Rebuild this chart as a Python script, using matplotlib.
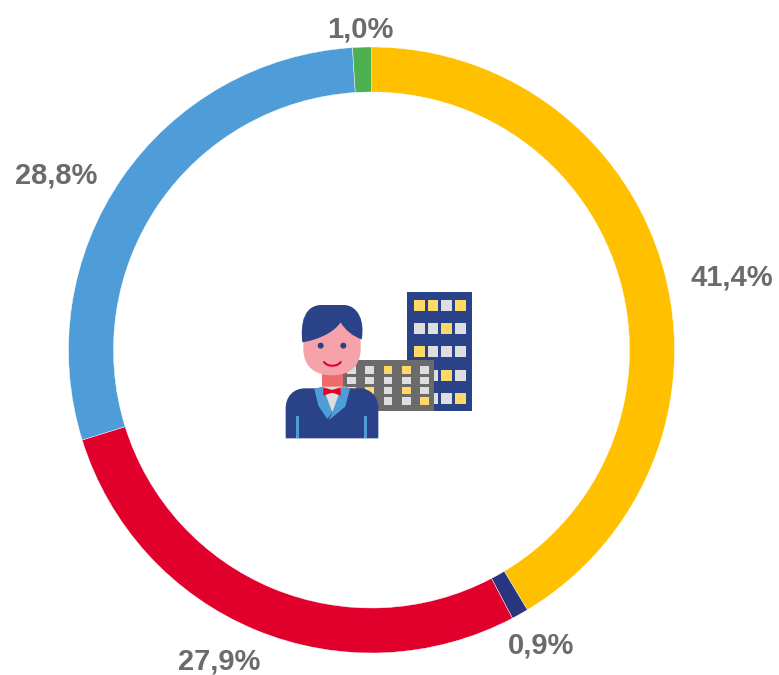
import matplotlib
matplotlib.use('Agg')
import matplotlib.pyplot as plt
from matplotlib.patches import Circle, PathPatch, Polygon, Rectangle
from matplotlib.path import Path

# share per segment, clockwise from the top
values = [41.4, 0.9, 27.9, 28.8, 1.0]
labels = ['41,4%', '0,9%', '27,9%', '28,8%', '1,0%']
colors = ['#FFC000', '#2A3580', '#E0002B', '#4F9DD8', '#4CAF50']

W, H = 779, 675
NAVY = '#2A4288'
GREY = '#6B6B6B'
WIN_Y = '#FFD966'
WIN_G = '#DEDEDE'

# label centres in pixels
label_pos = [(732, 278), (541, 646), (219, 662), (56, 176), (360, 29)]

# icon windows, Y yellow / G grey
tower_windows = ['YYGY', 'GGYG', 'YGGG', 'GGYG', 'GGGY']
block_windows = ['GGYYG', 'GGGGG', 'YYGYG', 'YGGGY']


def zx(x):
    # icon was measured on a 3x crop starting at 270,285
    return 270 + x / 3


def zy(y):
    return H - (285 + y / 3)


def box(ax, x0, y0, x1, y1, color, z=3):
    ax.add_patch(Rectangle((zx(x0), zy(y1)), (x1 - x0) / 3, (y1 - y0) / 3,
                           fc=color, ec='none', zorder=z))


def poly(ax, pts, color, z=3):
    ax.add_patch(Polygon([(zx(x), zy(y)) for x, y in pts], closed=True,
                         fc=color, ec='none', zorder=z))


def curve(ax, verts, codes, color, z=3, fill=True, lw=0):
    p = Path([(zx(x), zy(y)) for x, y in verts], codes)
    ax.add_patch(PathPatch(p, fc=color if fill else 'none',
                           ec=color if not fill else 'none', lw=lw, zorder=z,
                           capstyle='round'))


def draw_icon(ax):
    M, L, C, Z = Path.MOVETO, Path.LINETO, Path.CURVE4, Path.CLOSEPOLY

    # tower
    box(ax, 412, 22, 607, 377, NAVY, 3)
    xs = [433, 473, 514, 555]
    ys = [44, 114, 184, 254, 324]
    for row, y in zip(tower_windows, ys):
        for c, x in zip(row, xs):
            box(ax, x, y, x + 32, y + 33, WIN_Y if c == 'Y' else WIN_G, 4)

    # low block
    box(ax, 217, 225, 493, 377, GREY, 5)
    xs = [232, 286, 341, 396, 450]
    ys = [243, 275, 305, 337]
    for row, y in zip(block_windows, ys):
        for c, x in zip(row, xs):
            box(ax, x, y, x + 26, y + 23, WIN_Y if c == 'Y' else WIN_G, 6)

    # jacket
    curve(ax, [(47, 460), (47, 370), (47, 335), (70, 310), (105, 310),
               (267, 310), (302, 310), (325, 335), (325, 370), (325, 460),
               (47, 460)],
          [M, L, C, C, C, L, C, C, C, L, Z], NAVY, 7)
    box(ax, 78, 392, 88, 460, '#4F9DD8', 8)
    box(ax, 282, 392, 292, 460, '#4F9DD8', 8)

    # neck, shirt, collar, bow
    box(ax, 155, 262, 218, 308, '#EE6B6B', 8)
    poly(ax, [(145, 305), (228, 305), (187, 382)], WIN_G, 8)
    poly(ax, [(133, 312), (158, 305), (187, 382), (172, 402), (145, 362)], '#4F9DD8', 9)
    poly(ax, [(240, 312), (215, 305), (187, 382), (176, 406), (226, 365)], '#4F9DD8', 9)
    poly(ax, [(160, 307), (183, 314), (190, 314), (212, 307), (212, 332),
              (190, 324), (183, 324), (160, 332)], '#E0002B', 10)

    # face
    curve(ax, [(100, 100), (100, 190), (100, 250), (140, 271), (186, 271),
               (232, 271), (272, 250), (272, 190), (272, 100), (100, 100)],
          [M, L, C, C, C, C, C, C, L, Z], '#F5A3A8', 9)

    # hair
    curve(ax, [(97, 172), (90, 110), (105, 60), (155, 60), (220, 60),
               (265, 60), (285, 110), (275, 163), (250, 155), (225, 135),
               (212, 112), (190, 145), (140, 165), (97, 172), (97, 172)],
          [M, C, C, C, L, C, C, C, C, C, C, C, C, C, Z], NAVY, 10)

    # eyes and smile
    for x in (152, 220):
        ax.add_patch(Circle((zx(x), zy(182)), 3, fc=NAVY, ec='none', zorder=11))
    curve(ax, [(162, 231), (172, 246), (202, 246), (212, 231)],
          [M, C, C, C], '#E0002B', 11, fill=False, lw=1.5)


fig = plt.figure(figsize=(W / 100, H / 100), dpi=100)
ax = fig.add_axes([0, 0, 1, 1])

ax.pie(values, colors=colors, startangle=90, counterclock=False,
       center=(371.5, H - 350), radius=303,
       wedgeprops={'width': 45, 'linewidth': 0.3, 'edgecolor': 'white'})

ax.set_xlim(0, W)
ax.set_ylim(0, H)
ax.axis('off')

for label, (x, y) in zip(labels, label_pos):
    ax.text(x, H - y, label, ha='center', va='center', fontsize=21,
            fontweight='bold', family='Liberation Sans', color='#6B6B6B',
            clip_on=False)

draw_icon(ax)

fig.savefig('out.png', dpi=100)
